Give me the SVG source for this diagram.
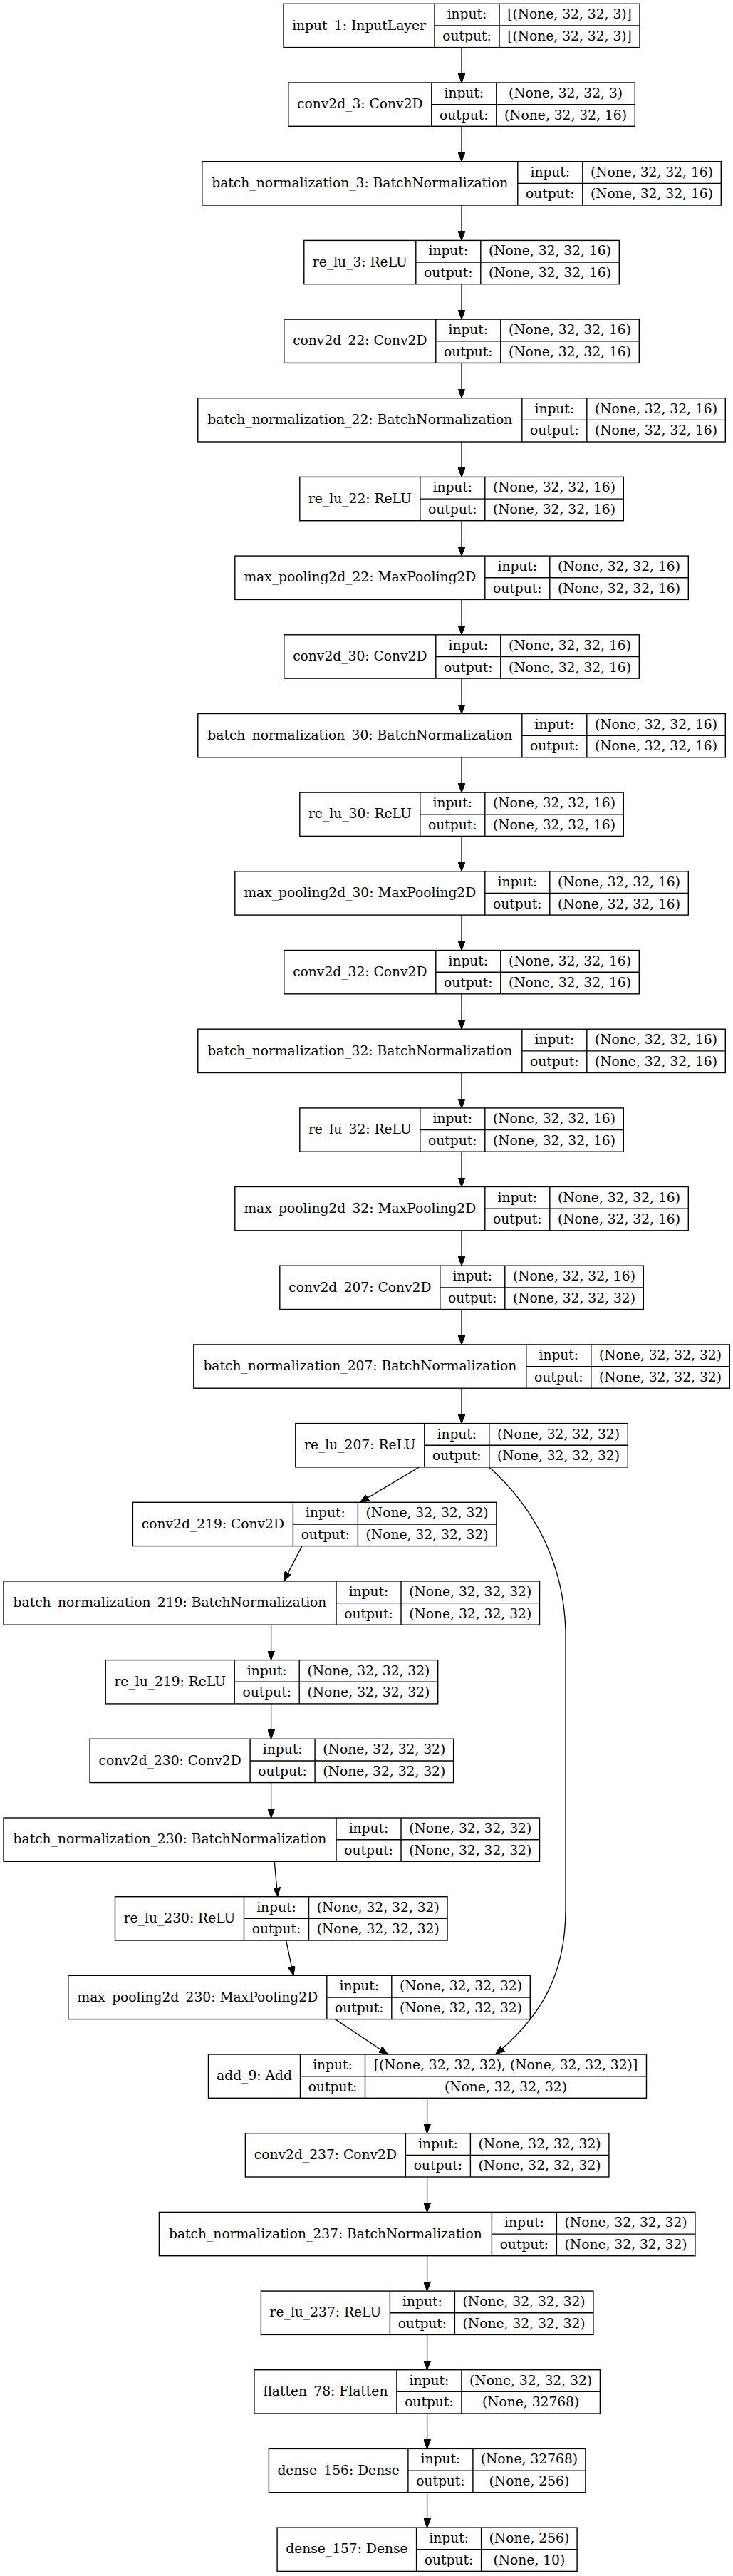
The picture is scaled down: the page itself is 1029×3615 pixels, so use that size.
<svg xmlns="http://www.w3.org/2000/svg" width="1029" height="3615" viewBox="0 0 1029 3615">
<style>
.node rect{fill:#fff;stroke:#000;stroke-width:1.4}
.node path{fill:none;stroke:#000;stroke-width:1.4}
.node text{font-family:"DejaVu Serif",serif;font-size:18.67px;fill:#000;text-anchor:middle}
.edges path{fill:none;stroke:#000;stroke-width:1.3;marker-end:url(#ah)}
</style>
<defs>
<marker id="ah" viewBox="0 0 13 10" refX="13" refY="5" markerWidth="13" markerHeight="10" markerUnits="userSpaceOnUse" orient="auto"><path d="M0,0 L13,5 L0,10 z" fill="#000" stroke="#000" stroke-width="1"/></marker>
</defs>
<rect width="1029" height="3615" fill="#fff"/>

<g id="input_1" class="node"><rect x="398" y="5.3" width="500" height="61.3"/><path d="M610,5.3V66.6M701,5.3V66.6M610,36H898"/><text x="504" y="41.6">input_1: InputLayer</text><text x="655.5" y="26.3">input:</text><text x="655.5" y="57">output:</text><text x="799.5" y="26.3">[(None, 32, 32, 3)]</text><text x="799.5" y="57">[(None, 32, 32, 3)]</text></g>

<g id="conv2d_3" class="node"><rect x="404.8" y="116" width="486.5" height="61.3"/><path d="M605.8,116V177.3M696.8,116V177.3M605.8,146.7H891.3"/><text x="505.3" y="152.3">conv2d_3: Conv2D</text><text x="651.3" y="137">input:</text><text x="651.3" y="167.7">output:</text><text x="794" y="137">(None, 32, 32, 3)</text><text x="794" y="167.7">(None, 32, 32, 16)</text></g>

<g id="batch_normalization_3" class="node"><rect x="283.8" y="226.7" width="728.5" height="61.3"/><path d="M726.8,226.7V288M817.8,226.7V288M726.8,257.4H1012.3"/><text x="505.3" y="263">batch_normalization_3: BatchNormalization</text><text x="772.3" y="247.7">input:</text><text x="772.3" y="278.4">output:</text><text x="915" y="247.7">(None, 32, 32, 16)</text><text x="915" y="278.4">(None, 32, 32, 16)</text></g>

<g id="re_lu_3" class="node"><rect x="426.8" y="337.4" width="442.5" height="61.3"/><path d="M583.8,337.4V398.7M674.8,337.4V398.7M583.8,368.1H869.3"/><text x="505.3" y="373.7">re_lu_3: ReLU</text><text x="629.3" y="358.4">input:</text><text x="629.3" y="389.1">output:</text><text x="772" y="358.4">(None, 32, 32, 16)</text><text x="772" y="389.1">(None, 32, 32, 16)</text></g>

<g id="conv2d_22" class="node"><rect x="398.8" y="448.1" width="498.5" height="61.3"/><path d="M611.8,448.1V509.4M702.8,448.1V509.4M611.8,478.8H897.3"/><text x="505.3" y="484.4">conv2d_22: Conv2D</text><text x="657.3" y="469.1">input:</text><text x="657.3" y="499.8">output:</text><text x="800" y="469.1">(None, 32, 32, 16)</text><text x="800" y="499.8">(None, 32, 32, 16)</text></g>

<g id="batch_normalization_22" class="node"><rect x="277.8" y="558.7" width="740.5" height="61.3"/><path d="M732.8,558.7V620M823.8,558.7V620M732.8,589.4H1018.3"/><text x="505.3" y="595">batch_normalization_22: BatchNormalization</text><text x="778.3" y="579.7">input:</text><text x="778.3" y="610.4">output:</text><text x="921" y="579.7">(None, 32, 32, 16)</text><text x="921" y="610.4">(None, 32, 32, 16)</text></g>

<g id="re_lu_22" class="node"><rect x="420.8" y="669.4" width="454.5" height="61.3"/><path d="M589.8,669.4V730.7M680.8,669.4V730.7M589.8,700.1H875.3"/><text x="505.3" y="705.7">re_lu_22: ReLU</text><text x="635.3" y="690.4">input:</text><text x="635.3" y="721.1">output:</text><text x="778" y="690.4">(None, 32, 32, 16)</text><text x="778" y="721.1">(None, 32, 32, 16)</text></g>

<g id="max_pooling2d_22" class="node"><rect x="329.8" y="780.1" width="636.5" height="61.3"/><path d="M680.8,780.1V841.4M771.8,780.1V841.4M680.8,810.8H966.3"/><text x="505.3" y="816.4">max_pooling2d_22: MaxPooling2D</text><text x="726.3" y="801.1">input:</text><text x="726.3" y="831.8">output:</text><text x="869" y="801.1">(None, 32, 32, 16)</text><text x="869" y="831.8">(None, 32, 32, 16)</text></g>

<g id="conv2d_30" class="node"><rect x="398.8" y="890.8" width="498.5" height="61.3"/><path d="M611.8,890.8V952.1M702.8,890.8V952.1M611.8,921.5H897.3"/><text x="505.3" y="927.1">conv2d_30: Conv2D</text><text x="657.3" y="911.8">input:</text><text x="657.3" y="942.5">output:</text><text x="800" y="911.8">(None, 32, 32, 16)</text><text x="800" y="942.5">(None, 32, 32, 16)</text></g>

<g id="batch_normalization_30" class="node"><rect x="277.8" y="1001.5" width="740.5" height="61.3"/><path d="M732.8,1001.5V1062.8M823.8,1001.5V1062.8M732.8,1032.2H1018.3"/><text x="505.3" y="1037.8">batch_normalization_30: BatchNormalization</text><text x="778.3" y="1022.5">input:</text><text x="778.3" y="1053.2">output:</text><text x="921" y="1022.5">(None, 32, 32, 16)</text><text x="921" y="1053.2">(None, 32, 32, 16)</text></g>

<g id="re_lu_30" class="node"><rect x="420.8" y="1112.1" width="454.5" height="61.3"/><path d="M589.8,1112.1V1173.4M680.8,1112.1V1173.4M589.8,1142.8H875.3"/><text x="505.3" y="1148.4">re_lu_30: ReLU</text><text x="635.3" y="1133.1">input:</text><text x="635.3" y="1163.8">output:</text><text x="778" y="1133.1">(None, 32, 32, 16)</text><text x="778" y="1163.8">(None, 32, 32, 16)</text></g>

<g id="max_pooling2d_30" class="node"><rect x="329.8" y="1222.8" width="636.5" height="61.3"/><path d="M680.8,1222.8V1284.1M771.8,1222.8V1284.1M680.8,1253.5H966.3"/><text x="505.3" y="1259.1">max_pooling2d_30: MaxPooling2D</text><text x="726.3" y="1243.8">input:</text><text x="726.3" y="1274.5">output:</text><text x="869" y="1243.8">(None, 32, 32, 16)</text><text x="869" y="1274.5">(None, 32, 32, 16)</text></g>

<g id="conv2d_32" class="node"><rect x="398.8" y="1333.5" width="498.5" height="61.3"/><path d="M611.8,1333.5V1394.8M702.8,1333.5V1394.8M611.8,1364.2H897.3"/><text x="505.3" y="1369.8">conv2d_32: Conv2D</text><text x="657.3" y="1354.5">input:</text><text x="657.3" y="1385.2">output:</text><text x="800" y="1354.5">(None, 32, 32, 16)</text><text x="800" y="1385.2">(None, 32, 32, 16)</text></g>

<g id="batch_normalization_32" class="node"><rect x="277.8" y="1444.2" width="740.5" height="61.3"/><path d="M732.8,1444.2V1505.5M823.8,1444.2V1505.5M732.8,1474.9H1018.3"/><text x="505.3" y="1480.5">batch_normalization_32: BatchNormalization</text><text x="778.3" y="1465.2">input:</text><text x="778.3" y="1495.9">output:</text><text x="921" y="1465.2">(None, 32, 32, 16)</text><text x="921" y="1495.9">(None, 32, 32, 16)</text></g>

<g id="re_lu_32" class="node"><rect x="420.8" y="1554.9" width="454.5" height="61.3"/><path d="M589.8,1554.9V1616.2M680.8,1554.9V1616.2M589.8,1585.6H875.3"/><text x="505.3" y="1591.2">re_lu_32: ReLU</text><text x="635.3" y="1575.9">input:</text><text x="635.3" y="1606.6">output:</text><text x="778" y="1575.9">(None, 32, 32, 16)</text><text x="778" y="1606.6">(None, 32, 32, 16)</text></g>

<g id="max_pooling2d_32" class="node"><rect x="329.8" y="1665.5" width="636.5" height="61.3"/><path d="M680.8,1665.5V1726.8M771.8,1665.5V1726.8M680.8,1696.2H966.3"/><text x="505.3" y="1701.8">max_pooling2d_32: MaxPooling2D</text><text x="726.3" y="1686.5">input:</text><text x="726.3" y="1717.2">output:</text><text x="869" y="1686.5">(None, 32, 32, 16)</text><text x="869" y="1717.2">(None, 32, 32, 16)</text></g>

<g id="conv2d_207" class="node"><rect x="392.8" y="1776.2" width="510.5" height="61.3"/><path d="M617.8,1776.2V1837.5M708.8,1776.2V1837.5M617.8,1806.9H903.3"/><text x="505.3" y="1812.5">conv2d_207: Conv2D</text><text x="663.3" y="1797.2">input:</text><text x="663.3" y="1827.9">output:</text><text x="806" y="1797.2">(None, 32, 32, 16)</text><text x="806" y="1827.9">(None, 32, 32, 32)</text></g>

<g id="batch_normalization_207" class="node"><rect x="271.8" y="1886.9" width="752.5" height="61.3"/><path d="M738.8,1886.9V1948.2M829.8,1886.9V1948.2M738.8,1917.6H1024.3"/><text x="505.3" y="1923.2">batch_normalization_207: BatchNormalization</text><text x="784.3" y="1907.9">input:</text><text x="784.3" y="1938.6">output:</text><text x="927" y="1907.9">(None, 32, 32, 32)</text><text x="927" y="1938.6">(None, 32, 32, 32)</text></g>

<g id="re_lu_207" class="node"><rect x="414.8" y="1997.6" width="466.5" height="61.3"/><path d="M595.8,1997.6V2058.9M686.8,1997.6V2058.9M595.8,2028.3H881.3"/><text x="505.3" y="2033.9">re_lu_207: ReLU</text><text x="641.3" y="2018.6">input:</text><text x="641.3" y="2049.3">output:</text><text x="784" y="2018.6">(None, 32, 32, 32)</text><text x="784" y="2049.3">(None, 32, 32, 32)</text></g>

<g id="conv2d_219" class="node"><rect x="186.4" y="2108.3" width="510.5" height="61.3"/><path d="M411.4,2108.3V2169.6M502.4,2108.3V2169.6M411.4,2139H696.9"/><text x="298.9" y="2144.6">conv2d_219: Conv2D</text><text x="456.9" y="2129.3">input:</text><text x="456.9" y="2160">output:</text><text x="599.6" y="2129.3">(None, 32, 32, 32)</text><text x="599.6" y="2160">(None, 32, 32, 32)</text></g>

<g id="batch_normalization_219" class="node"><rect x="5" y="2218.9" width="752.5" height="61.3"/><path d="M472,2218.9V2280.2M563,2218.9V2280.2M472,2249.6H757.5"/><text x="238.5" y="2255.2">batch_normalization_219: BatchNormalization</text><text x="517.5" y="2239.9">input:</text><text x="517.5" y="2270.6">output:</text><text x="660.2" y="2239.9">(None, 32, 32, 32)</text><text x="660.2" y="2270.6">(None, 32, 32, 32)</text></g>

<g id="re_lu_219" class="node"><rect x="148.2" y="2329.6" width="466.5" height="61.3"/><path d="M329.2,2329.6V2390.9M420.2,2329.6V2390.9M329.2,2360.3H614.7"/><text x="238.7" y="2365.9">re_lu_219: ReLU</text><text x="374.7" y="2350.6">input:</text><text x="374.7" y="2381.3">output:</text><text x="517.4" y="2350.6">(None, 32, 32, 32)</text><text x="517.4" y="2381.3">(None, 32, 32, 32)</text></g>

<g id="conv2d_230" class="node"><rect x="126.1" y="2440.3" width="510.5" height="61.3"/><path d="M351.1,2440.3V2501.6M442.1,2440.3V2501.6M351.1,2471H636.6"/><text x="238.6" y="2476.6">conv2d_230: Conv2D</text><text x="396.6" y="2461.3">input:</text><text x="396.6" y="2492">output:</text><text x="539.3" y="2461.3">(None, 32, 32, 32)</text><text x="539.3" y="2492">(None, 32, 32, 32)</text></g>

<g id="batch_normalization_230" class="node"><rect x="5" y="2551" width="752.5" height="61.3"/><path d="M472,2551V2612.3M563,2551V2612.3M472,2581.7H757.5"/><text x="238.5" y="2587.3">batch_normalization_230: BatchNormalization</text><text x="517.5" y="2572">input:</text><text x="517.5" y="2602.7">output:</text><text x="660.2" y="2572">(None, 32, 32, 32)</text><text x="660.2" y="2602.7">(None, 32, 32, 32)</text></g>

<g id="re_lu_230" class="node"><rect x="161.5" y="2661.7" width="466.5" height="61.3"/><path d="M342.5,2661.7V2723M433.5,2661.7V2723M342.5,2692.4H628"/><text x="252" y="2698">re_lu_230: ReLU</text><text x="388" y="2682.7">input:</text><text x="388" y="2713.4">output:</text><text x="530.7" y="2682.7">(None, 32, 32, 32)</text><text x="530.7" y="2713.4">(None, 32, 32, 32)</text></g>

<g id="max_pooling2d_230" class="node"><rect x="95.8" y="2772.3" width="648.5" height="61.3"/><path d="M458.8,2772.3V2833.6M549.8,2772.3V2833.6M458.8,2803H744.3"/><text x="277.3" y="2808.6">max_pooling2d_230: MaxPooling2D</text><text x="504.3" y="2793.3">input:</text><text x="504.3" y="2824">output:</text><text x="647" y="2793.3">(None, 32, 32, 32)</text><text x="647" y="2824">(None, 32, 32, 32)</text></g>

<g id="add_9" class="node"><rect x="292.5" y="2883" width="615" height="61.3"/><path d="M421.5,2883V2944.3M512.5,2883V2944.3M421.5,2913.7H907.5"/><text x="357" y="2919.3">add_9: Add</text><text x="467" y="2904">input:</text><text x="467" y="2934.7">output:</text><text x="710" y="2904">[(None, 32, 32, 32), (None, 32, 32, 32)]</text><text x="710" y="2934.7">(None, 32, 32, 32)</text></g>

<g id="conv2d_237" class="node"><rect x="344.4" y="2993.7" width="510.5" height="61.3"/><path d="M569.4,2993.7V3055M660.4,2993.7V3055M569.4,3024.4H854.9"/><text x="456.9" y="3030">conv2d_237: Conv2D</text><text x="614.9" y="3014.7">input:</text><text x="614.9" y="3045.4">output:</text><text x="757.6" y="3014.7">(None, 32, 32, 32)</text><text x="757.6" y="3045.4">(None, 32, 32, 32)</text></g>

<g id="batch_normalization_237" class="node"><rect x="223.4" y="3104.4" width="752.5" height="61.3"/><path d="M690.4,3104.4V3165.7M781.4,3104.4V3165.7M690.4,3135.1H975.9"/><text x="456.9" y="3140.7">batch_normalization_237: BatchNormalization</text><text x="735.9" y="3125.4">input:</text><text x="735.9" y="3156.1">output:</text><text x="878.6" y="3125.4">(None, 32, 32, 32)</text><text x="878.6" y="3156.1">(None, 32, 32, 32)</text></g>

<g id="re_lu_237" class="node"><rect x="366.4" y="3215.1" width="466.5" height="61.3"/><path d="M547.4,3215.1V3276.4M638.4,3215.1V3276.4M547.4,3245.8H832.9"/><text x="456.9" y="3251.4">re_lu_237: ReLU</text><text x="592.9" y="3236.1">input:</text><text x="592.9" y="3266.8">output:</text><text x="735.6" y="3236.1">(None, 32, 32, 32)</text><text x="735.6" y="3266.8">(None, 32, 32, 32)</text></g>

<g id="flatten_78" class="node"><rect x="356.9" y="3325.7" width="485.5" height="61.3"/><path d="M556.9,3325.7V3387M647.9,3325.7V3387M556.9,3356.4H842.4"/><text x="456.9" y="3362">flatten_78: Flatten</text><text x="602.4" y="3346.7">input:</text><text x="602.4" y="3377.4">output:</text><text x="745.1" y="3346.7">(None, 32, 32, 32)</text><text x="745.1" y="3377.4">(None, 32768)</text></g>

<g id="dense_156" class="node"><rect x="377.4" y="3436.4" width="444.5" height="61.3"/><path d="M572.9,3436.4V3497.7M663.9,3436.4V3497.7M572.9,3467.1H821.9"/><text x="475.1" y="3472.7">dense_156: Dense</text><text x="618.4" y="3457.4">input:</text><text x="618.4" y="3488.1">output:</text><text x="742.9" y="3457.4">(None, 32768)</text><text x="742.9" y="3488.1">(None, 256)</text></g>

<g id="dense_157" class="node"><rect x="389.1" y="3547.1" width="421" height="61.3"/><path d="M584.6,3547.1V3608.4M675.6,3547.1V3608.4M584.6,3577.8H810.1"/><text x="486.9" y="3583.4">dense_157: Dense</text><text x="630.1" y="3568.1">input:</text><text x="630.1" y="3598.8">output:</text><text x="742.9" y="3568.1">(None, 256)</text><text x="742.9" y="3598.8">(None, 10)</text></g>

<g id="connectors" class="edges">
<path d="M648,66.6V116"/>
<path d="M648,177.3V226.7"/>
<path d="M648,288V337.4"/>
<path d="M648,398.7V448.1"/>
<path d="M648,509.4V558.7"/>
<path d="M648,620V669.4"/>
<path d="M648,730.7V780.1"/>
<path d="M648,841.4V890.8"/>
<path d="M648,952.1V1001.5"/>
<path d="M648,1062.8V1112.1"/>
<path d="M648,1173.4V1222.8"/>
<path d="M648,1284.1V1333.5"/>
<path d="M648,1394.8V1444.2"/>
<path d="M648,1505.5V1554.9"/>
<path d="M648,1616.2V1665.5"/>
<path d="M648,1726.8V1776.2"/>
<path d="M648,1837.5V1886.9"/>
<path d="M648,1948.2V1997.6"/>
<path d="M588.6,2058.9L505.2,2108.3"/>
<path d="M686.8,2058.9C755,2120 792,2200 794,2290L794,2680C794,2770 760,2830 695.5,2883"/>
<path d="M424,2169.6L398.3,2218.9"/>
<path d="M380.6,2280.2V2329.6"/>
<path d="M380.6,2390.9V2440.3"/>
<path d="M380.6,2501.6V2551"/>
<path d="M385.2,2612.3L389.8,2661.7"/>
<path d="M401.6,2723L412,2772.3"/>
<path d="M470.5,2833.6L544.6,2883"/>
<path d="M599.6,2944.3V2993.7"/>
<path d="M599.6,3055V3104.4"/>
<path d="M599.6,3165.7V3215.1"/>
<path d="M599.6,3276.4V3325.7"/>
<path d="M599.6,3387V3436.4"/>
<path d="M599.6,3497.7V3547.1"/>
</g>
</svg>
